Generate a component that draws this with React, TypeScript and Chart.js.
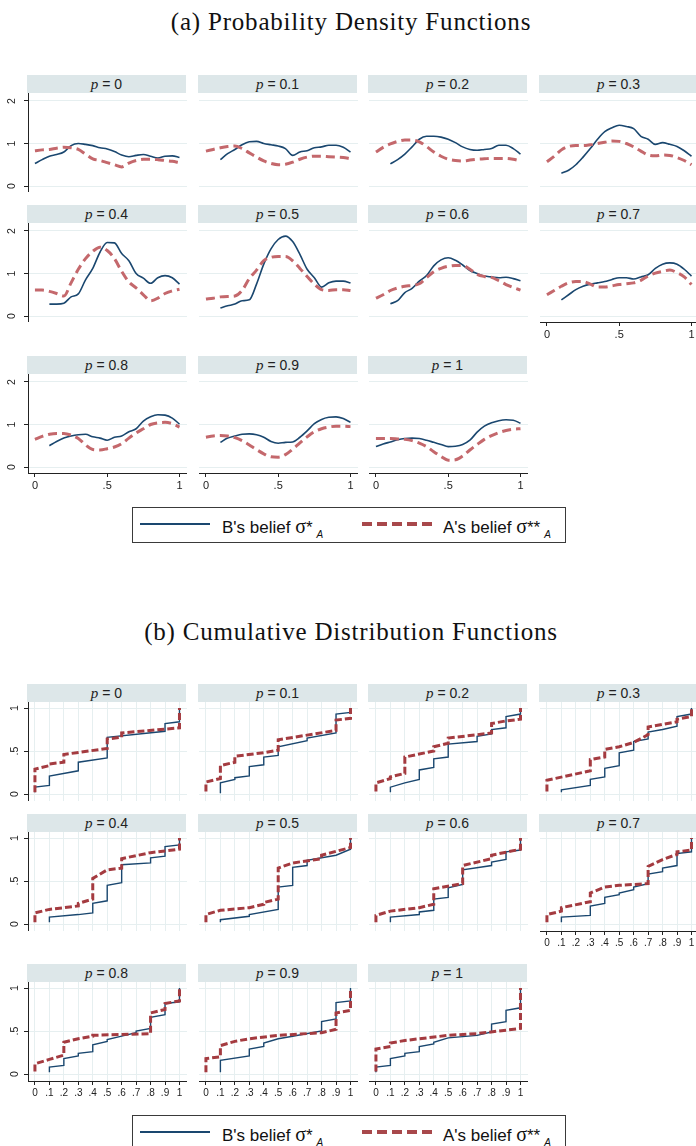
import React, { useEffect, useRef } from 'react';
import { Chart, registerables } from 'chart.js';

Chart.register(...registerables);

// ---------- labels & ticks ----------
const pLabels = ['0', '0.1', '0.2', '0.3', '0.4', '0.5', '0.6', '0.7', '0.8', '0.9', '1'];

const pdfXTicks = [0, 0.5, 1];
const pdfXTickLabels = ['0', '.5', '1'];
const pdfYTicks = [0, 1, 2];
const pdfYTickLabels = ['0', '1', '2'];
const cdfXTicks = [0, 0.1, 0.2, 0.3, 0.4, 0.5, 0.6, 0.7, 0.8, 0.9, 1];
const cdfXTickLabels = ['0', '.1', '.2', '.3', '.4', '.5', '.6', '.7', '.8', '.9', '1'];
const cdfYTicks = [0, 0.5, 1];
const cdfYTickLabels = ['0', '.5', '1'];

// ---------- PDF data (evaluation grid and densities) ----------
const pdfX = [0, 0.05, 0.1, 0.15, 0.2, 0.25, 0.3, 0.35, 0.4, 0.45, 0.5, 0.55, 0.6, 0.65, 0.7, 0.75, 0.8, 0.85, 0.9, 0.95, 1];

// B's belief sigma*_A
const pdfB00 = [0.53, 0.62, 0.7, 0.74, 0.8, 0.95, 1.0, 0.98, 0.95, 0.9, 0.87, 0.81, 0.73, 0.69, 0.72, 0.74, 0.7, 0.66, 0.7, 0.71, 0.67];
const pdfB01 = [null, null, 0.62, 0.76, 0.86, 0.97, 1.04, 1.05, 1.0, 0.97, 0.94, 0.88, 0.72, 0.8, 0.83, 0.9, 0.92, 0.96, 0.96, 0.91, 0.8];
const pdfB02 = [null, null, 0.52, 0.62, 0.75, 0.92, 1.1, 1.17, 1.17, 1.15, 1.1, 1.02, 0.92, 0.86, 0.84, 0.86, 0.88, 0.96, 0.96, 0.88, 0.75];
const pdfB03 = [null, null, 0.3, 0.37, 0.5, 0.68, 0.88, 1.1, 1.28, 1.37, 1.43, 1.4, 1.35, 1.17, 1.1, 0.98, 1.02, 0.98, 0.93, 0.83, 0.7];
const pdfB04 = [null, null, 0.28, 0.28, 0.3, 0.45, 0.52, 0.85, 1.12, 1.5, 1.73, 1.72, 1.47, 1.3, 1.0, 0.89, 0.77, 0.9, 0.95, 0.9, 0.75];
const pdfB05 = [null, null, 0.19, 0.24, 0.28, 0.36, 0.38, 0.75, 1.22, 1.58, 1.8, 1.88, 1.75, 1.45, 1.1, 0.9, 0.68, 0.78, 0.82, 0.82, 0.78];
const pdfB06 = [null, null, 0.29, 0.36, 0.55, 0.65, 0.82, 0.95, 1.18, 1.32, 1.37, 1.31, 1.2, 1.07, 1.0, 0.94, 0.92, 0.9, 0.91, 0.88, 0.83];
const pdfB07 = [null, null, 0.38, 0.5, 0.62, 0.7, 0.75, 0.78, 0.81, 0.86, 0.9, 0.9, 0.87, 0.92, 0.97, 1.12, 1.22, 1.25, 1.22, 1.1, 0.94];
const pdfB08 = [null, null, 0.5, 0.6, 0.68, 0.73, 0.76, 0.77, 0.71, 0.68, 0.63, 0.7, 0.73, 0.83, 0.9, 1.08, 1.18, 1.23, 1.22, 1.15, 1.01];
const pdfB09 = [null, null, 0.58, 0.68, 0.73, 0.77, 0.78, 0.76, 0.7, 0.6, 0.56, 0.58, 0.59, 0.7, 0.85, 1.02, 1.12, 1.17, 1.18, 1.14, 1.05];
const pdfB10 = [0.48, 0.54, 0.59, 0.64, 0.67, 0.68, 0.67, 0.63, 0.58, 0.53, 0.48, 0.49, 0.53, 0.63, 0.82, 0.96, 1.04, 1.09, 1.11, 1.1, 1.03];

// A's belief sigma**_A
const pdfA00 = [0.83, 0.85, 0.86, 0.89, 0.91, 0.9, 0.86, 0.75, 0.64, 0.6, 0.55, 0.5, 0.45, 0.54, 0.6, 0.63, 0.63, 0.62, 0.6, 0.58, 0.55];
const pdfA01 = [0.82, 0.86, 0.9, 0.93, 0.94, 0.88, 0.78, 0.68, 0.59, 0.53, 0.5, 0.51, 0.56, 0.63, 0.68, 0.7, 0.7, 0.69, 0.68, 0.67, 0.64];
const pdfA02 = [0.8, 0.91, 0.99, 1.05, 1.08, 1.08, 1.04, 0.93, 0.8, 0.7, 0.63, 0.6, 0.59, 0.61, 0.63, 0.64, 0.65, 0.65, 0.65, 0.63, 0.59];
const pdfA03 = [0.57, 0.7, 0.85, 0.93, 0.95, 0.95, 0.97, 1.0, 1.03, 1.06, 1.05, 1.0, 0.92, 0.82, 0.73, 0.71, 0.73, 0.72, 0.67, 0.6, 0.5];
const pdfA04 = [0.61, 0.61, 0.58, 0.53, 0.47, 0.78, 1.1, 1.35, 1.52, 1.62, 1.54, 1.35, 1.05, 0.8, 0.66, 0.5, 0.36, 0.42, 0.53, 0.59, 0.63];
const pdfA05 = [0.4, 0.42, 0.45, 0.46, 0.47, 0.6, 0.88, 1.08, 1.3, 1.38, 1.4, 1.4, 1.3, 1.12, 0.93, 0.75, 0.62, 0.6, 0.62, 0.62, 0.6];
const pdfA06 = [0.42, 0.5, 0.6, 0.66, 0.7, 0.72, 0.76, 0.9, 1.04, 1.12, 1.17, 1.19, 1.19, 1.1, 0.98, 0.93, 0.91, 0.83, 0.74, 0.67, 0.61];
const pdfA07 = [0.5, 0.6, 0.7, 0.78, 0.81, 0.81, 0.75, 0.68, 0.68, 0.71, 0.74, 0.76, 0.78, 0.84, 0.94, 1.01, 1.05, 1.08, 1.02, 0.92, 0.74];
const pdfA08 = [0.65, 0.72, 0.77, 0.79, 0.79, 0.75, 0.67, 0.52, 0.41, 0.4, 0.43, 0.47, 0.55, 0.68, 0.8, 0.9, 1.0, 1.04, 1.05, 1.02, 0.94];
const pdfA09 = [0.7, 0.73, 0.74, 0.73, 0.69, 0.62, 0.52, 0.41, 0.31, 0.24, 0.23, 0.29, 0.42, 0.57, 0.71, 0.83, 0.9, 0.94, 0.96, 0.96, 0.95];
const pdfA10 = [0.67, 0.67, 0.67, 0.66, 0.65, 0.62, 0.56, 0.48, 0.36, 0.25, 0.16, 0.17, 0.26, 0.4, 0.53, 0.65, 0.74, 0.81, 0.86, 0.89, 0.9];

// ---------- CDF data ([x, cumulative share]) ----------
type Pair = [number, number];
const cdfB00: Pair[] = [[0, 0.02], [0, 0.08], [0.1, 0.1], [0.1, 0.21], [0.3, 0.27], [0.3, 0.37], [0.5, 0.42], [0.5, 0.66], [0.9, 0.73], [0.9, 0.82], [1, 0.84], [1, 1]];
const cdfB01: Pair[] = [[0.1, 0.01], [0.1, 0.13], [0.2, 0.17], [0.2, 0.19], [0.3, 0.21], [0.3, 0.32], [0.4, 0.34], [0.4, 0.43], [0.5, 0.45], [0.5, 0.55], [0.7, 0.62], [0.7, 0.65], [0.9, 0.71], [0.9, 0.93], [1, 0.95], [1, 1]];
const cdfB02: Pair[] = [[0.1, 0.02], [0.1, 0.08], [0.2, 0.13], [0.3, 0.17], [0.3, 0.28], [0.4, 0.31], [0.4, 0.41], [0.5, 0.43], [0.5, 0.58], [0.7, 0.61], [0.7, 0.67], [0.8, 0.7], [0.8, 0.75], [0.9, 0.77], [0.9, 0.9], [1, 0.93], [1, 1]];
const cdfB03: Pair[] = [[0.1, 0.02], [0.1, 0.05], [0.3, 0.1], [0.3, 0.17], [0.4, 0.2], [0.4, 0.3], [0.5, 0.33], [0.5, 0.48], [0.6, 0.51], [0.6, 0.61], [0.7, 0.64], [0.7, 0.72], [0.8, 0.75], [0.9, 0.79], [0.9, 0.9], [1, 0.93], [1, 1]];
const cdfB04: Pair[] = [[0.1, 0.02], [0.1, 0.08], [0.3, 0.11], [0.4, 0.13], [0.4, 0.24], [0.5, 0.27], [0.5, 0.45], [0.6, 0.48], [0.6, 0.69], [0.8, 0.71], [0.8, 0.77], [0.9, 0.79], [0.9, 0.9], [1, 0.92], [1, 1]];
const cdfB05: Pair[] = [[0.1, 0.02], [0.1, 0.05], [0.3, 0.09], [0.3, 0.11], [0.5, 0.17], [0.5, 0.43], [0.6, 0.45], [0.6, 0.66], [0.7, 0.68], [0.7, 0.74], [0.9, 0.8], [1, 0.87], [1, 1]];
const cdfB06: Pair[] = [[0.1, 0.02], [0.1, 0.08], [0.3, 0.11], [0.3, 0.14], [0.4, 0.16], [0.4, 0.29], [0.5, 0.31], [0.5, 0.42], [0.6, 0.46], [0.6, 0.63], [0.8, 0.68], [0.8, 0.72], [0.9, 0.75], [0.9, 0.84], [1, 0.86], [1, 1]];
const cdfB07: Pair[] = [[0.1, 0.02], [0.1, 0.08], [0.3, 0.1], [0.3, 0.21], [0.4, 0.24], [0.4, 0.31], [0.5, 0.34], [0.5, 0.36], [0.6, 0.4], [0.6, 0.43], [0.7, 0.47], [0.7, 0.58], [0.8, 0.61], [0.8, 0.65], [0.9, 0.68], [0.9, 0.82], [1, 0.84], [1, 1]];
const cdfB08: Pair[] = [[0.1, 0.02], [0.1, 0.08], [0.2, 0.1], [0.2, 0.18], [0.3, 0.21], [0.3, 0.24], [0.4, 0.26], [0.4, 0.34], [0.5, 0.38], [0.5, 0.4], [0.6, 0.44], [0.7, 0.48], [0.7, 0.5], [0.8, 0.53], [0.8, 0.66], [0.9, 0.69], [0.9, 0.82], [1, 0.84], [1, 1]];
const cdfB09: Pair[] = [[0.1, 0.02], [0.1, 0.16], [0.3, 0.21], [0.3, 0.29], [0.4, 0.32], [0.4, 0.36], [0.5, 0.41], [0.6, 0.44], [0.8, 0.5], [0.8, 0.61], [0.9, 0.64], [0.9, 0.83], [1, 0.85], [1, 1]];
const cdfB10: Pair[] = [[0, 0.02], [0, 0.08], [0.1, 0.1], [0.1, 0.18], [0.2, 0.21], [0.2, 0.24], [0.3, 0.26], [0.3, 0.32], [0.4, 0.35], [0.4, 0.37], [0.5, 0.42], [0.7, 0.45], [0.8, 0.49], [0.8, 0.58], [0.9, 0.61], [0.9, 0.74], [1, 0.77], [1, 1]];

const cdfA00: Pair[] = [[0, 0.02], [0, 0.29], [0.1, 0.33], [0.1, 0.35], [0.2, 0.37], [0.2, 0.46], [0.5, 0.53], [0.5, 0.64], [0.6, 0.66], [0.6, 0.71], [1, 0.77], [1, 1]];
const cdfA01: Pair[] = [[0, 0.03], [0, 0.14], [0.1, 0.18], [0.1, 0.33], [0.2, 0.37], [0.2, 0.44], [0.4, 0.48], [0.5, 0.51], [0.5, 0.63], [0.9, 0.74], [0.9, 0.86], [1, 0.88], [1, 1]];
const cdfA02: Pair[] = [[0, 0.03], [0, 0.13], [0.1, 0.18], [0.1, 0.2], [0.2, 0.24], [0.2, 0.43], [0.4, 0.5], [0.4, 0.55], [0.5, 0.59], [0.5, 0.65], [0.8, 0.71], [0.8, 0.82], [0.9, 0.85], [1, 0.87], [1, 1]];
const cdfA03: Pair[] = [[0, 0.03], [0, 0.16], [0.3, 0.27], [0.3, 0.4], [0.4, 0.43], [0.4, 0.52], [0.5, 0.55], [0.6, 0.6], [0.7, 0.69], [0.7, 0.78], [0.9, 0.84], [0.9, 0.87], [1, 0.9], [1, 1]];
const cdfA04: Pair[] = [[0, 0.02], [0, 0.13], [0.1, 0.17], [0.3, 0.21], [0.3, 0.24], [0.4, 0.29], [0.4, 0.53], [0.5, 0.63], [0.6, 0.65], [0.6, 0.76], [0.8, 0.83], [0.9, 0.85], [1, 0.87], [1, 1]];
const cdfA05: Pair[] = [[0, 0.02], [0, 0.11], [0.1, 0.16], [0.3, 0.19], [0.4, 0.23], [0.4, 0.25], [0.5, 0.29], [0.5, 0.65], [0.6, 0.71], [0.8, 0.76], [0.8, 0.8], [1, 0.89], [1, 1]];
const cdfA06: Pair[] = [[0, 0.02], [0, 0.1], [0.1, 0.15], [0.3, 0.19], [0.4, 0.23], [0.4, 0.41], [0.6, 0.47], [0.6, 0.68], [0.8, 0.76], [0.8, 0.8], [1, 0.87], [1, 1]];
const cdfA07: Pair[] = [[0, 0.02], [0, 0.11], [0.1, 0.15], [0.1, 0.19], [0.3, 0.26], [0.3, 0.36], [0.4, 0.43], [0.5, 0.45], [0.7, 0.47], [0.7, 0.67], [0.8, 0.75], [0.9, 0.81], [0.9, 0.84], [1, 0.86], [1, 1]];
const cdfA08: Pair[] = [[0, 0.03], [0, 0.12], [0.1, 0.17], [0.2, 0.22], [0.2, 0.37], [0.3, 0.41], [0.4, 0.44], [0.4, 0.45], [0.8, 0.47], [0.8, 0.71], [0.9, 0.75], [0.9, 0.82], [1, 0.85], [1, 1]];
const cdfA09: Pair[] = [[0, 0.02], [0, 0.18], [0.1, 0.2], [0.1, 0.33], [0.2, 0.38], [0.3, 0.41], [0.5, 0.45], [0.8, 0.48], [0.9, 0.52], [0.9, 0.71], [1, 0.74], [1, 1]];
const cdfA10: Pair[] = [[0, 0.03], [0, 0.29], [0.1, 0.32], [0.1, 0.36], [0.2, 0.39], [0.5, 0.45], [0.7, 0.47], [1, 0.53], [1, 1]];

const pdfBlue = [pdfB00, pdfB01, pdfB02, pdfB03, pdfB04, pdfB05, pdfB06, pdfB07, pdfB08, pdfB09, pdfB10];
const pdfRed = [pdfA00, pdfA01, pdfA02, pdfA03, pdfA04, pdfA05, pdfA06, pdfA07, pdfA08, pdfA09, pdfA10];
const cdfBlue = [cdfB00, cdfB01, cdfB02, cdfB03, cdfB04, cdfB05, cdfB06, cdfB07, cdfB08, cdfB09, cdfB10];
const cdfRed = [cdfA00, cdfA01, cdfA02, cdfA03, cdfA04, cdfA05, cdfA06, cdfA07, cdfA08, cdfA09, cdfA10];

// ---------- style & layout ----------
const NAVY = '#1a476f';
const PDF_RED = '#c4686c';
const CDF_RED = '#a43b40';
const LEG_RED = '#a8484b';
const GRID = '#e6eff0';
const STRIP = '#dde7e9';
const AXIS = '#222222';
const TICK_FONT = '"Liberation Sans", Arial, sans-serif';

const COL_LEFT = [28, 199, 369, 540];
const PLOT_W = 159;
const PLOT_H = 99;
const STRIP_H = 18;
const PDF_TOP = [93, 223, 374];
const CDF_TOP = [702, 832, 982];
const Y_AXIS_W = 28;
const X_AXIS_H = 24;

function gridPts(xs: number[], ys: (number | null)[]) {
  const out: { x: number; y: number }[] = [];
  ys.forEach((y, i) => {
    if (y !== null) out.push({ x: xs[i], y });
  });
  return out;
}
function pairPts(p: Pair[]) {
  return p.map(([x, y]) => ({ x, y }));
}

function Panel({ kind, idx }: { kind: 'pdf' | 'cdf'; idx: number }) {
  const ref = useRef<HTMLCanvasElement>(null);
  const row = Math.floor(idx / 4);
  const col = idx % 4;
  const showX = idx >= 7;
  const showY = col === 0;
  const isPdf = kind === 'pdf';
  const plotTop = (isPdf ? PDF_TOP : CDF_TOP)[row];
  const left = showY ? COL_LEFT[col] - Y_AXIS_W : COL_LEFT[col];
  const width = PLOT_W + (showY ? Y_AXIS_W : 0);
  const height = PLOT_H + (showX ? X_AXIS_H : 0);

  useEffect(() => {
    if (!ref.current) return;
    const xT = isPdf ? pdfXTicks : cdfXTicks;
    const xL = isPdf ? pdfXTickLabels : cdfXTickLabels;
    const yT = isPdf ? pdfYTicks : cdfYTicks;
    const yL = isPdf ? pdfYTickLabels : cdfYTickLabels;
    const blue = isPdf ? gridPts(pdfX, pdfBlue[idx]) : pairPts(cdfBlue[idx]);
    const red = isPdf ? gridPts(pdfX, pdfRed[idx]) : pairPts(cdfRed[idx]);
    const chart = new Chart(ref.current, {
      type: 'line',
      data: {
        datasets: [
          {
            label: "B's belief",
            data: blue,
            borderColor: NAVY,
            borderWidth: isPdf ? 1.6 : 1.4,
            pointRadius: 0,
            fill: false,
            tension: 0,
            cubicInterpolationMode: isPdf ? 'monotone' : 'default',
            order: 2,
          },
          {
            label: "A's belief",
            data: red,
            borderColor: isPdf ? PDF_RED : CDF_RED,
            borderWidth: 3,
            borderDash: isPdf ? [9, 5] : [7, 3],
            borderCapStyle: 'butt',
            pointRadius: 0,
            fill: false,
            tension: 0,
            cubicInterpolationMode: isPdf ? 'monotone' : 'default',
            order: 1,
          },
        ],
      },
      options: {
        responsive: false,
        animation: false,
        events: [],
        layout: { padding: 0, autoPadding: false },
        plugins: { legend: { display: false }, tooltip: { enabled: false }, title: { display: false } },
        scales: {
          x: {
            type: 'linear',
            position: 'bottom',
            min: -0.048,
            max: 1.052,
            afterBuildTicks: (s: any) => {
              s.ticks = xT.map((v) => ({ value: v }));
            },
            ticks: {
              display: showX,
              autoSkip: false,
              maxRotation: 0,
              minRotation: 0,
              padding: 2,
              color: AXIS,
              font: { family: TICK_FONT, size: isPdf ? 11 : 10 },
              callback: (_v: any, i: number) => xL[i],
            },
            grid: {
              color: isPdf ? 'rgba(0,0,0,0)' : GRID,
              lineWidth: 1,
              drawTicks: showX,
              tickLength: 4,
              tickColor: AXIS,
              tickWidth: 1,
            },
            border: { display: showX, color: AXIS, width: 1 },
            afterFit: (s: any) => {
              s.height = showX ? X_AXIS_H : 0;
              s.paddingLeft = 0;
              s.paddingRight = 0;
              s.paddingTop = 0;
              s.paddingBottom = 0;
            },
          },
          y: {
            type: 'linear',
            position: 'left',
            min: isPdf ? -0.141 : -0.081,
            max: isPdf ? 2.188 : 1.07,
            afterBuildTicks: (s: any) => {
              s.ticks = yT.map((v) => ({ value: v }));
            },
            ticks: {
              display: showY,
              autoSkip: false,
              minRotation: 90,
              maxRotation: 90,
              crossAlign: 'center',
              padding: isPdf ? 8.5 : 5,
              color: AXIS,
              font: { family: TICK_FONT, size: 10.5 },
              callback: (_v: any, i: number) => yL[i],
            },
            grid: {
              color: GRID,
              lineWidth: 1,
              drawTicks: showY,
              tickLength: 4,
              tickColor: AXIS,
              tickWidth: 1,
            },
            border: { display: showY, color: AXIS, width: 1 },
            afterFit: (s: any) => {
              s.width = showY ? Y_AXIS_W : 0;
              s.paddingLeft = 0;
              s.paddingRight = 0;
              s.paddingTop = 0;
              s.paddingBottom = 0;
            },
          },
        },
      } as any,
    });
    return () => chart.destroy();
  }, []);

  return (
    <>
      <div
        style={{
          position: 'absolute',
          left: COL_LEFT[col] - 1,
          top: plotTop - STRIP_H,
          width: PLOT_W,
          height: STRIP_H,
          background: STRIP,
          fontFamily: TICK_FONT,
          fontSize: 14,
          lineHeight: STRIP_H + 'px',
          textAlign: 'center',
          color: '#222',
          whiteSpace: 'nowrap',
        }}
      >
        <span style={{ fontFamily: '"Liberation Serif", serif', fontStyle: 'italic', fontSize: 15 }}>p</span> = {pLabels[idx]}
      </div>
      <canvas
        ref={ref}
        width={width}
        height={height}
        style={{ position: 'absolute', left, top: plotTop, width, height }}
      />
    </>
  );
}

function Legend({ top }: { top: number }) {
  const text: React.CSSProperties = {
    position: 'absolute',
    top: 8,
    fontFamily: TICK_FONT,
    fontSize: 17,
    lineHeight: '20px',
    color: '#111',
    whiteSpace: 'nowrap',
  };
  const sig: React.CSSProperties = { fontFamily: '"Liberation Serif", serif', fontSize: 20 };
  const sub: React.CSSProperties = { fontSize: 10, fontStyle: 'italic', position: 'relative', top: 5, marginLeft: 4 };
  return (
    <div
      style={{
        position: 'absolute',
        left: 132,
        top,
        width: 434,
        height: 36,
        border: '1px solid #3a3a3a',
        boxSizing: 'border-box',
        background: '#fff',
      }}
    >
      <div style={{ position: 'absolute', left: 7, top: 15, width: 70, height: 2, background: NAVY }} />
      <div style={{ ...text, left: 89 }}>
        B's belief <span style={sig}>σ</span>*<span style={sub}>A</span>
      </div>
      <div
        style={{
          position: 'absolute',
          left: 229,
          top: 14,
          width: 70,
          height: 4,
          background: `repeating-linear-gradient(to right, ${LEG_RED} 0px, ${LEG_RED} 10px, transparent 10px, transparent 15px)`,
        }}
      />
      <div style={{ ...text, left: 310 }}>
        A's belief <span style={sig}>σ</span>**<span style={sub}>A</span>
      </div>
    </div>
  );
}

function Title({ top, children }: { top: number; children: React.ReactNode }) {
  return (
    <div
      style={{
        position: 'absolute',
        left: 0,
        top,
        width: 702,
        textAlign: 'center',
        fontFamily: '"Liberation Serif", "DejaVu Serif", serif',
        fontSize: 25,
        lineHeight: '30px',
        color: '#111',
        letterSpacing: 0.8,
      }}
    >
      {children}
    </div>
  );
}

export default function App() {
  const idxs = pLabels.map((_, i) => i);
  return (
    <div style={{ position: 'absolute', left: 0, top: 0, width: 696, height: 1146, overflow: 'hidden', background: '#fff' }}>
      <Title top={7}>(a) Probability Density Functions</Title>
      {idxs.map((i) => (
        <Panel key={'pdf' + i} kind="pdf" idx={i} />
      ))}
      <Legend top={507} />
      <Title top={617}>(b) Cumulative Distribution Functions</Title>
      {idxs.map((i) => (
        <Panel key={'cdf' + i} kind="cdf" idx={i} />
      ))}
      <Legend top={1115} />
    </div>
  );
}
